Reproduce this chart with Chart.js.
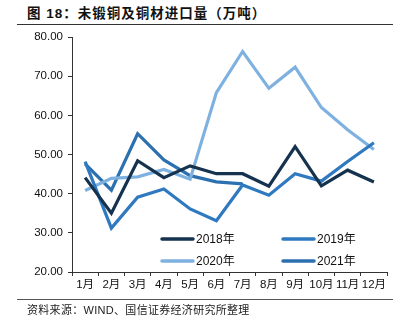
<!DOCTYPE html>
<html><head><meta charset="utf-8">
<script src="https://cdn.jsdelivr.net/npm/chart.js@4/dist/chart.umd.min.js"></script>
<style>
html,body{margin:0;padding:0;background:#fff;}
#wrap{position:relative;width:410px;height:332px;overflow:hidden;}
#title{position:absolute;left:27px;top:2px;font-family:"Liberation Sans","Noto Sans CJK SC",sans-serif;font-weight:bold;font-size:13.5px;letter-spacing:1px;color:#111;white-space:nowrap;}
#rule1{position:absolute;left:17px;top:24px;width:376px;height:1px;background:#333;}
#rule2{position:absolute;left:17px;top:299px;width:376px;height:1px;background:#555;}
#src{position:absolute;left:27px;top:301px;font-family:"Liberation Sans","Noto Sans CJK SC",sans-serif;font-size:11px;letter-spacing:0.3px;color:#222;white-space:nowrap;}
canvas{position:absolute;left:0;top:0;}
</style></head><body>
<div id="wrap">
<div id="title">图 18：未锻铜及铜材进口量（万吨）</div>
<div id="rule1"></div>
<canvas id="c" width="410" height="332"></canvas>
<div id="rule2"></div>
<div id="src">资料来源：WIND、国信证券经济研究所整理</div>
</div>
<script>
const months = ["1月","2月","3月","4月","5月","6月","7月","8月","9月","10月","11月","12月"];
const seriesNames = ["2018年","2019年","2020年","2021年"];
const v2018 = [44.1, 35.0, 48.4, 44.1, 47.1, 45.1, 45.1, 41.9, 52.0, 42.0, 46.0, 43.0];
const v2019 = [48.2, 31.2, 39.1, 41.2, 36.1, 33.1, 42.2, 39.6, 45.1, 43.2, 48.2, 53.0];
const v2020 = [40.8, 43.9, 44.3, 46.2, 43.7, 65.8, 76.3, 66.9, 72.3, 62.0, 56.3, 51.3];
const v2021 = [47.6, 40.9, 55.3, 48.6, 44.6, 43.0, 42.5];
const colors = ["#15324F","#2F79C0","#7FB1E0","#2C70B0"];

const legendPlugin = {
  id:'customLegend',
  afterDraw(chart){
    const ctx = chart.ctx;
    const pos = [[162,239],[283,239],[162,261],[283,261]];
    ctx.save();
    ctx.font = '12px "Liberation Sans","Noto Sans CJK SC",sans-serif';
    ctx.textBaseline = 'middle';
    chart.data.datasets.forEach((ds,i)=>{
      const [lx,ly] = pos[i];
      ctx.strokeStyle = ds.borderColor; ctx.lineWidth = 3.5; ctx.lineCap='round';
      ctx.beginPath(); ctx.moveTo(lx,ly); ctx.lineTo(lx+31,ly); ctx.stroke();
      ctx.fillStyle = '#111';
      ctx.fillText(ds.label, lx+34, ly+0.5);
    });
    ctx.restore();
  }
};

new Chart(document.getElementById('c'), {
  type:'line',
  data:{
    labels: months,
    datasets:[
      {label:seriesNames[0], data:v2018, borderColor:colors[0]},
      {label:seriesNames[1], data:v2019, borderColor:colors[1]},
      {label:seriesNames[2], data:v2020, borderColor:colors[2]},
      {label:seriesNames[3], data:v2021, borderColor:colors[3]}
    ].map(d=>Object.assign(d,{borderWidth:3.2,pointRadius:0,tension:0,fill:false,borderJoinStyle:'miter'}))
  },
  options:{
    responsive:false, animation:false,
    layout:{padding:{top:37,right:23,left:0,bottom:0}},
    plugins:{legend:{display:false},tooltip:{enabled:false}},
    scales:{
      x:{
        offset:true,
        grid:{display:true,offset:true,drawOnChartArea:false,drawTicks:true,tickLength:4,color:'#333'},
        border:{display:true,color:'#333',width:1},
        ticks:{color:'#111',font:{size:11.5,family:'"Liberation Sans","Noto Sans CJK SC",sans-serif'},padding:2,maxRotation:0,autoSkip:false},
        afterFit(s){s.height=60;}
      },
      y:{
        min:20,max:80,
        grid:{display:true,drawOnChartArea:false,drawTicks:true,tickLength:4,color:'#333'},
        border:{display:true,color:'#333',width:1},
        ticks:{stepSize:10,color:'#111',font:{size:11.5,family:'"Liberation Sans",sans-serif'},padding:5,callback:v=>v.toFixed(2)},
        afterFit(s){s.width=72;}
      }
    }
  },
  plugins:[legendPlugin]
});
</script>
</body></html>
